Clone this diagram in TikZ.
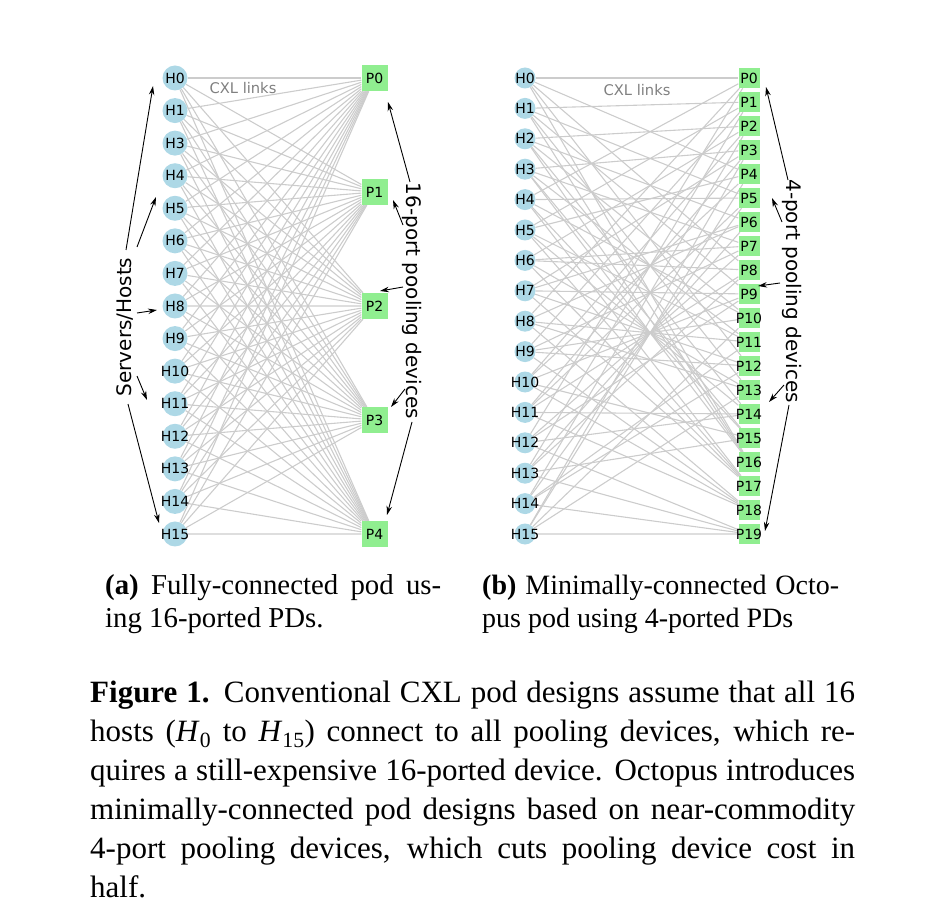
\documentclass[tikz,border=0pt]{standalone}
\usepackage{fontspec}
\setmainfont{Liberation Serif}
\newfontfamily\plotfont{DejaVu Sans}
\usepackage{tikz}
\usetikzlibrary{arrows.meta,backgrounds,positioning,calc}
\definecolor{hostblue}{HTML}{ADD8E6}
\definecolor{pdgreen}{HTML}{90EE90}
\definecolor{linkgray}{HTML}{CCCCCC}
\definecolor{notegray}{HTML}{808080}
\newcommand{\flatlbl}[1]{\makebox[0pt]{#1}}

\begin{document}
\begin{tikzpicture}[x=1pt,y=-1pt,
    hostA/.style={circle, fill=hostblue, minimum size=25pt, inner sep=0pt, font=\plotfont\fontsize{14}{15}\selectfont},
    hostB/.style={hostA, minimum size=21pt},
    pdA/.style={rectangle, fill=pdgreen, minimum size=26pt, inner sep=0pt, font=\plotfont\fontsize{14}{15}\selectfont},
    pdB/.style={pdA, minimum width=21pt, minimum height=20pt},
    link/.style={draw=linkgray, line width=1.1pt},
    cxl/.style={text=notegray, font=\plotfont\fontsize{14.7}{17}\selectfont},
    note/.style={inner sep=0pt, font=\plotfont\fontsize{20}{24}\selectfont},
    pointer/.style={-{Stealth[length=9pt,width=5.5pt]}, line width=0.9pt}]
  \useasboundingbox (0,0) rectangle (929,909);

  % (a) fully connected pod
  \foreach \h [count=\i from 0] in {0,1,3,4,5,6,7,8,9,10,11,12,13,14,15}
    \node[hostA] (ha\h) at (175, 78+32.571*\i) {\flatlbl{H\h}}; %
  \foreach \p in {0,...,4}
    \node[pdA] (pa\p) at (374.5, 78+114*\p) {\flatlbl{P\p}}; %
  \begin{scope}[on background layer]
    \foreach \h in {0,1,3,4,5,6,7,8,9,10,11,12,13,14,15}
      \foreach \p in {0,...,4}
        \draw[link] (ha\h) -- (pa\p); %
  \end{scope}
  \node[cxl] (cxla) at (243,88) {CXL links}; %

  % (b) Octopus pod, 4-ported PDs
  \foreach \h in {0,...,15}
    \node[hostB] (hb\h) at (525, 78+30.4*\h) {\flatlbl{H\h}}; %
  \foreach \p in {0,...,19}
    \node[pdB] (pb\p) at (749, 78+24*\p) {\flatlbl{P\p}}; %
  \begin{scope}[on background layer]
    \foreach \p/\hs in {0/{0,4,8,12},1/{1,5,9,13},2/{2,6,10,14},3/{3,7,11,15},
        4/{0,5,10,15},5/{1,4,11,14},6/{2,7,8,13},7/{3,6,9,12},
        8/{0,6,11,13},9/{1,7,10,12},10/{2,4,9,15},11/{3,5,8,14},
        12/{0,7,9,14},13/{1,6,8,15},14/{2,5,11,12},15/{3,4,10,13},
        16/{0,1,2,3},17/{4,5,6,7},18/{8,9,10,11},19/{12,13,14,15}}
      \foreach \h in \hs
        \draw[link] (pb\p) -- (hb\h); %
  \end{scope}
  \node[cxl] (cxlb) at (637,90) {CXL links}; %

  % annotations
  \node[note, rotate=90] (srv) at (125,327) {Servers/Hosts}; %
  \node[note, rotate=-90] (pool16) at (412,301) {16-port pooling devices}; %
  \node[note, rotate=-90] (pool4) at (792,291) {4-port pooling devices}; %
  \foreach \nm/\sx/\sy/\ex/\ey in {s1/126/250/153/86, s2/137/247/156/197, s3/137/313/157/310,
      s4/137/376/147/400, s5/128/404/159/523,
      r1/410/182/388/102, r2/403/225/393/200, r3/403/287/380/291, r4/405/389/391/407, r5/412/422/387/515,
      q1/788/180/766/87, q2/782/222/772/198, q3/780/283/758/286, q4/784/385/769/402, q5/789/405/765/531} {
    \coordinate (\nm s) at (\sx,\sy);
    \coordinate (\nm e) at (\ex,\ey);
    \draw[pointer] (\nm s) -- (\nm e); %
  }

  % captions
  \node[anchor=north west, inner sep=0pt, text width=336pt, align=justify,
    font=\fontsize{28.8}{33}\selectfont] (capa) at (105,574) {\textbf{(a)} Fully-connected pod us-\linebreak ing 16-ported PDs.}; %
  \node[anchor=north west, inner sep=0pt, text width=357pt, align=justify,
    font=\fontsize{28}{33}\selectfont] (capb) at (482,574.5) {\textbf{(b)} Minimally-connected Octo-\linebreak pus pod using 4-ported PDs}; %
  \node[anchor=north west, inner sep=0pt, text width=765pt, align=justify,
    font=\fontsize{31}{39}\selectfont] (capfig) at (90,681) {\textbf{Figure 1.} Conventional CXL pod designs assume that all 16\linebreak
    hosts (\textit{H}\textsubscript{0} to \textit{H}\textsubscript{15}) connect to all pooling devices, which re-\linebreak
    quires a still-expensive 16-ported device. Octopus introduces\linebreak
    minimally-connected pod designs based on near-commodity\linebreak
    4-port pooling devices, which cuts pooling device cost in\linebreak
    half.}; %
\end{tikzpicture}
\end{document}
